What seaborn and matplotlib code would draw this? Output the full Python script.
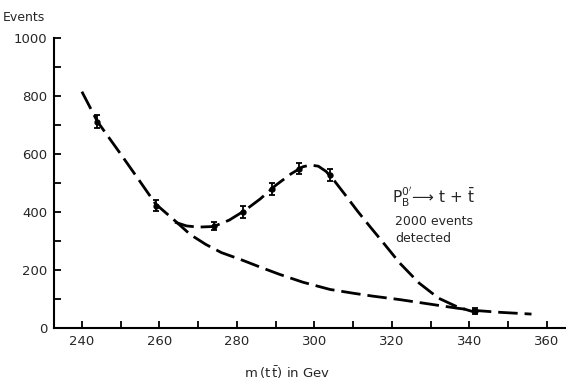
import matplotlib
matplotlib.use("Agg")
import matplotlib.pyplot as plt
import seaborn as sns

# measured points (with error bars)
mass_pts = [244, 259, 274, 281.5, 289, 296, 304, 341.5]
events_pts = [712, 422, 352, 400, 480, 550, 528, 58]
events_err = [22, 20, 15, 20, 20, 20, 20, 10]

# background curve (lower dashed)
bg_mass = [240, 244, 250, 255, 259, 264, 268, 272, 276, 281, 286, 291, 297, 304, 310, 315, 322, 330, 337, 342, 348, 356]
bg_events = [815, 712, 600, 505, 428, 370, 322, 288, 260, 236, 210, 185, 158, 133, 120, 110, 98, 82, 68, 60, 54, 48]

# signal + background curve (upper dashed)
sig_mass = [264, 267, 270, 274, 278, 282, 286, 290, 294, 297, 299, 301, 303, 305, 308, 311, 314, 318, 322, 327, 332, 337, 341]
sig_events = [365, 352, 348, 350, 372, 405, 445, 492, 532, 556, 562, 558, 540, 510, 458, 405, 355, 290, 224, 155, 103, 72, 56]

sns.set_style("ticks")
plt.rcParams["font.family"] = ["DejaVu Sans"]

fig = plt.figure(figsize=(5.66, 3.84), dpi=100)
ax = fig.add_axes([0.0954, 0.1458, 0.9046, 0.7552])

dash = dict(color="black", linewidth=2.0, dashes=(7, 2.5))
sns.lineplot(x=bg_mass, y=bg_events, ax=ax, sort=False, **dash)
sns.lineplot(x=sig_mass, y=sig_events, ax=ax, sort=False, **dash)

ax.errorbar(mass_pts, events_pts, yerr=events_err, fmt="o", color="black",
            markersize=3.5, capsize=2.5, elinewidth=1.3, capthick=1.3)

ax.set_xlim(232.8, 364.9)
ax.set_ylim(0, 1000)
ax.set_xticks(range(240, 361, 10))
ax.set_xticklabels([str(v) if v % 20 == 0 else "" for v in range(240, 361, 10)])
ax.set_yticks(range(0, 1001, 100))
ax.set_yticklabels([str(v) if v % 200 == 0 else "" for v in range(0, 1001, 100)])
ax.tick_params(direction="in", length=5, width=1.3, labelsize=9.5, color="black", pad=5)
for s in ["top", "right"]:
    ax.spines[s].set_visible(False)
for s in ["left", "bottom"]:
    ax.spines[s].set_linewidth(1.5)
    ax.spines[s].set_color("black")

fig.text(0.005, 0.955, "Events", fontsize=9, ha="left", va="center")
fig.text(0.507, 0.03, r"m$\,($t$\,\bar{\mathrm{t}})$ in Gev", fontsize=9.5, ha="center", va="center")

ax.text(0.66, 0.45, r"$\mathrm{P_B^{0'}}\!\longrightarrow\,$t + $\bar{\mathrm{t}}$", transform=ax.transAxes,
        fontsize=11, ha="left", va="center")
ax.text(0.666, 0.39, "2000 events\ndetected", transform=ax.transAxes,
        fontsize=9, ha="left", va="top", linespacing=1.45)

fig.savefig("out.png", dpi=100)
